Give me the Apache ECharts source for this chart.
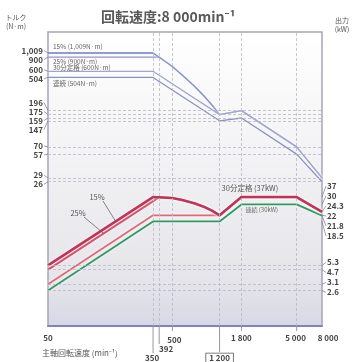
<!DOCTYPE html>
<html>
<head>
<meta charset="utf-8">
<script src="https://cdn.jsdelivr.net/npm/echarts@6/dist/echarts.min.js"></script>
<style>
html,body{margin:0;padding:0;background:#fff}
#c{width:352px;height:362px}
</style>
</head>
<body>
<div id="c"></div>
<script>
// Spindle output (kW) and torque (N·m) against spindle speed (min^-1)
const speed15 = [50, 350, 500, 600, 750, 900, 1050, 1200, 1800, 5000, 8000];
const kw15    = [5.3, 37, 36, 34, 31, 28, 25, 22, 37, 37, 24.3];
const nm15    = [1009, 1009, 687, 541, 395, 297, 227, 175, 196, 70, 29];

const speed25 = [50, 392, 500, 600, 750, 900, 1050, 1200, 1800, 5000, 8000];
const kw25    = [4.7, 37, 36, 34, 31, 28, 25, 22, 37, 37, 24.3];
const nm25    = [900, 900, 687, 541, 395, 297, 227, 175, 196, 70, 29];

const speed30 = [50, 350, 1200, 1800, 5000, 8000];
const kw30    = [3.1, 22, 22, 37, 37, 24.3];
const nm30    = [600, 600, 175, 196, 70, 29];

const speedCont = [50, 350, 1200, 1800, 5000, 8000];
const kwCont    = [2.6, 18.5, 18.5, 30, 30, 21.8];
const nmCont    = [504, 504, 147, 159, 57, 26];

// axis reference values
const speedMarks  = [50, 350, 392, 500, 1200, 1800, 5000, 8000];
const speedLabels = ['50', '350', '392', '500', '1 200', '1 800', '5 000', '8 000'];
const torqueMarks = [1009, 900, 600, 504, 196, 175, 159, 147, 70, 57, 29, 26];
const torqueLabels = ['1,009', '900', '600', '504', '196', '175', '159', '147', '70', '57', '29', '26'];
const powerMarks  = [37, 30, 24.3, 22, 21.8, 18.5, 5.3, 4.7, 3.1, 2.6];
const powerLabels = ['37', '30', '24.3', '22', '21.8', '18.5', '5.3', '4.7', '3.1', '2.6'];
const torqueGuides = [196, 175, 159, 147, 70, 57, 29, 26];
const powerGuides  = [5.3, 4.7, 3.1, 2.6];
const speedGuides  = [350, 392, 500, 1200, 1800, 5000];

const curveNames = ['15%', '25%', '30分定格', '連続'];
const torqueRated = ['1,009', '900', '600', '504'];

const FONT = '"Noto Sans CJK JP", "Noto Sans", sans-serif';
const pair = (xs, ys) => xs.map((x, i) => [x, ys[i]]);

const chart = echarts.init(document.getElementById('c'), null, { renderer: 'canvas' });

const guideStyle = { color: '#b9b9c6', type: [3, 2], width: 0.8 };
function guides(list, key) {
  return {
    silent: true, symbol: ['none', 'none'], label: { show: false },
    lineStyle: guideStyle, animation: false,
    data: list.map(v => ({ [key]: v }))
  };
}

const torqueColors = ['#6f7bc8', '#8e95cc', '#a1a6cc', '#8a90c2'];
const powerColors  = ['#c0345a', '#d9475e', '#e26877', '#2d9a64'];
const powerWidths  = [2.6, 2.2, 1.8, 1.8];

function torqueSeries(xs, ys, i) {
  return {
    type: 'line', yAxisIndex: 0, data: pair(xs, ys), symbol: 'none', z: 3,
    lineStyle: { color: torqueColors[i], width: 1.3, shadowColor: 'rgba(255,255,255,0.95)', shadowBlur: 2 }
  };
}
function powerSeries(xs, ys, i) {
  return {
    type: 'line', yAxisIndex: 1, data: pair(xs, ys), symbol: 'none', z: 4 - i * 0.1,
    lineStyle: { color: powerColors[i], width: powerWidths[i], shadowColor: 'rgba(255,255,255,0.95)', shadowBlur: 3 }
  };
}

const series = [
  torqueSeries(speed15, nm15, 0),
  torqueSeries(speed25, nm25, 1),
  torqueSeries(speed30, nm30, 2),
  torqueSeries(speedCont, nmCont, 3),
  powerSeries(speedCont, kwCont, 3),
  powerSeries(speed30, kw30, 2),
  powerSeries(speed25, kw25, 1),
  powerSeries(speed15, kw15, 0)
];
series[0].markLine = guides(speedGuides, 'xAxis');
series[1].markLine = guides(torqueGuides, 'yAxis');
series[4].markLine = guides(powerGuides, 'yAxis');

chart.setOption({
  animation: false,
  title: {
    text: '回転速度:8 000min⁻¹', left: 96, top: 5,
    textStyle: { fontFamily: FONT, fontSize: 14, fontWeight: 'bold', color: '#595959' }
  },
  grid: {
    left: 48, right: 30, top: 32, bottom: 36, show: true,
    borderColor: '#a5a5bb', borderWidth: 1.5,
    backgroundColor: new echarts.graphic.LinearGradient(0, 0, 0, 1, [
      { offset: 0, color: '#ffffff' },
      { offset: 0.45, color: '#f2f2f4' },
      { offset: 0.85, color: '#e4e4ea' },
      { offset: 1, color: '#d8d8e6' }
    ])
  },
  xAxis: {
    type: 'log', logBase: 10, min: 50, max: 8000,
    axisLine: { show: true, lineStyle: { color: '#8080c4', width: 2 } },
    axisTick: { show: false }, axisLabel: { show: false }, splitLine: { show: false }
  },
  yAxis: [
    { type: 'log', logBase: 10, min: 0.43, max: 1834, position: 'left',
      axisLine: { show: false }, axisTick: { show: false }, axisLabel: { show: false }, splitLine: { show: false } },
    { type: 'log', logBase: 10, min: 0.946, max: 4041, position: 'right',
      axisLine: { show: false }, axisTick: { show: false }, axisLabel: { show: false }, splitLine: { show: false } }
  ],
  series: series
});

// spread stacked tick labels apart, keeping each cluster centred on its values
function spread(ys, gap) {
  let groups = ys.map((y, i) => ({ idx: [i], c: y }));
  let merged = true;
  while (merged) {
    merged = false;
    for (let k = 0; k < groups.length - 1; k++) {
      const a = groups[k], b = groups[k + 1];
      const aEnd = a.c + (a.idx.length - 1) * gap / 2;
      const bStart = b.c - (b.idx.length - 1) * gap / 2;
      if (bStart - aEnd < gap) {
        const n = a.idx.length + b.idx.length;
        groups.splice(k, 2, { idx: a.idx.concat(b.idx), c: (a.c * a.idx.length + b.c * b.idx.length) / n });
        merged = true;
        break;
      }
    }
  }
  const out = [];
  groups.forEach(g => {
    const s = g.c - (g.idx.length - 1) * gap / 2;
    g.idx.forEach((i, j) => { out[i] = s + j * gap; });
  });
  return out;
}

const T = v => chart.convertToPixel({ seriesIndex: 0 }, v);
const P = v => chart.convertToPixel({ seriesIndex: 4 }, v);
const xL = T([50, 1009])[0], xR = T([8000, 1009])[0];
const yBottom = T([50, 0.43])[1];

const g = [];
function txt(x, y, text, opt) {
  const st = Object.assign({
    text: text, fill: '#444', font: 'bold 8px ' + FONT,
    align: 'left', verticalAlign: 'middle', textAlign: 'left', textVerticalAlign: 'middle'
  }, opt || {});
  if (opt && opt.align) { st.textAlign = opt.align; }
  if (opt && opt.verticalAlign) { st.textVerticalAlign = opt.verticalAlign; }
  g.push({ type: 'text', x: x, y: y, z: 20, silent: true, style: st });
}
function line(x1, y1, x2, y2, color, w) {
  g.push({ type: 'line', z: 19, silent: true, shape: { x1, y1, x2, y2 }, style: { stroke: color || '#666', lineWidth: w || 0.7 } });
}

// left torque scale
const tY = torqueMarks.map(v => T([50, v])[1]);
const tL = spread(tY, 9);
torqueMarks.forEach((v, i) => {
  line(xL, tY[i], xL - 4, tL[i], '#777', 0.7);
  txt(xL - 5, tL[i], torqueLabels[i], { align: 'right' });
});
// right output scale
const pY = powerMarks.map(v => P([8000, v])[1]);
const pL = spread(pY, 10);
powerMarks.forEach((v, i) => {
  line(xR, pY[i], xR + 4, pL[i], '#777', 0.7);
  txt(xR + 5, pL[i], powerLabels[i]);
});

// speed scale
speedMarks.forEach((v, i) => {
  const x = T([v, 1009])[0];
  let drop = 5, ly = yBottom + 12, lx = x, box = false;
  if (v === 350) { drop = 27; ly = yBottom + 32; lx = x - 1; }
  else if (v === 392) { drop = 18; ly = yBottom + 23; lx = x + 7; }
  else if (v === 500) { ly = yBottom + 14; lx = x + 2; }
  else if (v === 1200) { drop = 26; ly = yBottom + 32; box = true; }
  else if (v === 8000) { lx = x + 6; }
  else if (v === 5000) { lx = x - 1; }
  if (v !== 50 && v !== 8000) line(x, yBottom, x, yBottom + drop, '#8a8a9a', 0.9);
  const opt = { align: 'center', font: 'bold 8px ' + FONT };
  if (box) Object.assign(opt, { borderColor: '#555', borderWidth: 0.8, padding: [1, 3, 0, 3], backgroundColor: '#fff' });
  txt(lx, ly, speedLabels[i], opt);
});

// axis titles
txt(16, 17, 'トルク', { align: 'center', font: '7px ' + FONT, fill: '#555' });
txt(16, 26, '(N·m)', { align: 'center', font: '7px ' + FONT, fill: '#555' });
txt(342, 20, '出力', { align: 'center', font: '7px ' + FONT, fill: '#555' });
txt(342, 29, '(kW)', { align: 'center', font: '7px ' + FONT, fill: '#555' });
txt(42, 353, '主軸回転速度 (min⁻¹)', { font: '8px ' + FONT, fill: '#555' });

// torque curve captions
const ratedNm = [nm15[0], nm25[0], nm30[0], nmCont[0]];
const capOffset = [-6, 4, -4, 6];
ratedNm.forEach((v, i) => {
  const p = T([50, v]);
  txt(p[0] + 5, p[1] + capOffset[i], curveNames[i] + ' (' + torqueRated[i] + 'N·m)',
      { font: '6.5px ' + FONT, fill: '#666' });
});

// output curve captions
const a15 = P([175, 5.3 * 175 / 50]);
txt(97, 197, '15%', { align: 'center', font: '7.5px ' + FONT, fill: '#555' });
line(103, 201, a15[0], a15[1], '#555', 0.7);
const a25 = P([140, 4.7 * 140 / 50]);
txt(78, 213, '25%', { align: 'center', font: '7.5px ' + FONT, fill: '#555' });
line(84, 217, a25[0], a25[1], '#555', 0.7);

const c30 = P([1200, 37]);
txt(c30[0] + 2, c30[1] - 9, '30分定格 (37kW)', { font: '7.5px ' + FONT, fill: '#555' });
const cCont = P([1800, 30]);
txt(cCont[0] + 4, cCont[1] + 5, '連続 (30kW)', { font: '6px ' + FONT, fill: '#666' });

chart.setOption({ graphic: g });
</script>
</body>
</html>
